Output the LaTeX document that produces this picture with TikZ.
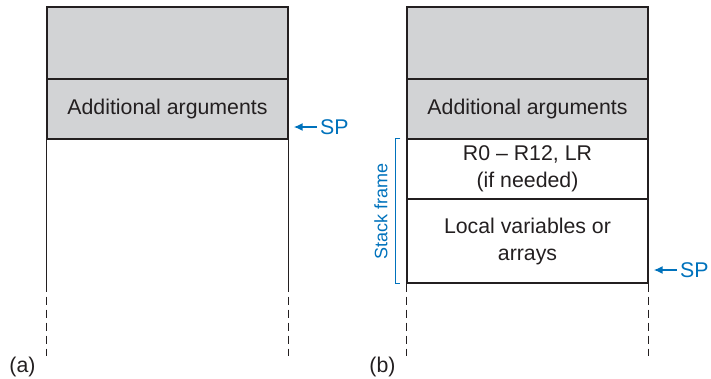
\documentclass[tikz,border=0pt]{standalone}
\usepackage{fontspec}
\setmainfont{Liberation Sans}
\usetikzlibrary{arrows.meta,positioning,calc}
\definecolor{stackgray}{RGB}{210,211,213}
\definecolor{spblue}{RGB}{0,114,188}
\definecolor{linegray}{RGB}{35,31,32}

\begin{document}
\begin{tikzpicture}[x=1pt,y=-1pt,font=\fontsize{21.3}{27}\selectfont,
  cell/.style={draw=linegray,line width=1.4pt,text=linegray,minimum width=241pt,inner sep=0pt,align=center},
  shaded/.style={cell,fill=stackgray},
  wall/.style={linegray,line width=1.4pt},
  gapwall/.style={wall,dash pattern=on 8pt off 5pt},
  ptr/.style={spblue,line width=1.5pt,-{Latex[length=9pt,width=8pt]}},
  sp/.style={spblue,anchor=west,inner sep=0pt}]
\useasboundingbox (0,0) rectangle (711,378);
% (a) stack before the call
\node[shaded,minimum height=72pt] (topA) at (167.5,43) {};
\node[shaded,minimum height=60pt] (argsA) at (167.5,109) {Additional arguments};
\foreach \side in {west,east}{
  \draw[wall] (argsA.south \side) -- ++(0,144) coordinate (wallA\side);
  \draw[gapwall] (wallA\side) -- ++(0,72);
}
\node[sp] (spA) at (320,127) {SP};
\draw[ptr] ([xshift=-3pt]spA.west) -- ([xshift=5pt]argsA.east |- spA.west);
\node[text=linegray] (labA) at (22.5,367) {(a)};
% (b) stack with the frame
\node[shaded,minimum height=72pt] (topB) at (527.5,43) {};
\node[shaded,minimum height=60pt] (argsB) at (527.5,109) {Additional arguments};
\node[cell,minimum height=60pt] (regsB) at (527.5,169) {R0 -- R12, LR\\(if needed)};
\node[cell,minimum height=84pt] (localB) at (527.5,241) {Local variables or\\arrays};
\foreach \side in {west,east}{
  \draw[gapwall] (localB.south \side) -- ++(0,72);
}
\node[sp] (spB) at (680,270) {SP};
\draw[ptr] ([xshift=-3pt]spB.west) -- ([xshift=5pt]localB.east |- spB.west);
\draw[spblue,line width=1.1pt] ([xshift=-6pt]regsB.north west) -| ([xshift=-11pt]localB.south west) -- ([xshift=-6pt]localB.south west);
\node[spblue,rotate=90,font=\fontsize{18}{22}\selectfont] (frameB) at (381,211) {Stack frame};
\node[text=linegray] (labB) at (382.5,367) {(b)};
\end{tikzpicture}
\end{document}
